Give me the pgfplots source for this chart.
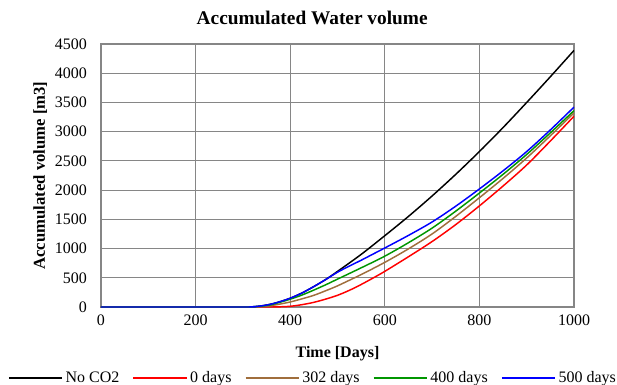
\documentclass[border=0pt]{standalone}
\usepackage{fontspec}
\setmainfont{Liberation Serif}
\usepackage{pgfplots}
\pgfplotsset{compat=1.18}
\definecolor{gridgray}{RGB}{134,134,134}
\definecolor{cbrown}{RGB}{160,110,60}
\definecolor{cgreen}{RGB}{0,150,0}
\begin{document}
\begin{tikzpicture}
\begin{axis}[
  name=ax,
  scale only axis,
  width=354.75pt, height=197.25pt,
  xmin=0, xmax=1000, ymin=0, ymax=4500,
  xtick={0,200,...,1000},
  ytick={0,500,...,4500},
  grid=major,
  major grid style={gridgray, line width=0.9pt},
  axis line style={gridgray, line width=0.9pt},
  major tick length=0pt,
  /pgf/number format/assume math mode=true,
  /pgf/number format/set thousands separator={},
  tick label style={font=\fontsize{12}{14}\selectfont},
  xticklabel style={yshift=-2pt},
  yticklabel style={xshift=-7pt},
  title={\textbf{Accumulated Water volume}},
  title style={font=\fontsize{14.5}{16}\selectfont, yshift=5pt, xshift=-19pt},
  xlabel={\textbf{Time [Days]}},
  ylabel={\textbf{Accumulated volume [m3]}},
  xlabel style={font=\fontsize{12}{14}\selectfont, yshift=-9pt},
  ylabel style={font=\fontsize{12.5}{14}\selectfont, yshift=-1pt},
  legend columns=5,
  legend style={draw=none, fill=none, at={(rel axis cs:0.449,-0.27)}, anchor=center,
    font=\fontsize{12}{14}\selectfont,
    /tikz/every even column/.append style={column sep=8pt}},
  legend image code/.code={\draw[#1] (0pt,0pt) -- (40pt,0pt);},
  every axis plot/.append style={line width=1.1pt, smooth, tension=0.5},
]
\addplot[black] coordinates {(0,0) (300,0) (320,4) (340,20) (360,50) (380,95) (400,150) (425,240) (450,350) (475,470) (500,609) (550,900) (600,1220) (650,1550) (700,1900) (750,2270) (800,2660) (850,3070) (900,3500) (950,3940) (1000,4390)};
\addlegendentry{No CO2}
\addplot[red] coordinates {(0,0) (300,0) (360,0) (380,4) (400,12) (425,40) (450,80) (475,135) (500,200) (525,285) (550,385) (575,495) (600,610) (650,860) (700,1120) (750,1410) (800,1730) (850,2070) (900,2430) (950,2840) (1000,3264)};
\addlegendentry{0 days}
\addplot[cbrown] coordinates {(0,0) (300,0) (330,3) (350,15) (375,45) (400,86) (425,140) (450,200) (475,278) (500,362) (550,555) (600,764) (650,995) (700,1250) (750,1550) (800,1870) (850,2200) (900,2550) (950,2930) (1000,3322)};
\addlegendentry{302 days}
\addplot[cgreen] coordinates {(0,0) (300,0) (320,3) (340,15) (360,40) (380,85) (400,133) (425,205) (450,290) (475,380) (500,477) (550,670) (600,870) (650,1100) (700,1350) (750,1640) (800,1950) (850,2270) (900,2610) (950,2980) (1000,3360)};
\addlegendentry{400 days}
\addplot[blue] coordinates {(0,0) (300,0) (320,4) (340,20) (360,50) (380,95) (400,150) (425,240) (450,350) (475,470) (500,595) (525,700) (550,800) (575,905) (600,1010) (650,1225) (700,1455) (750,1725) (800,2020) (850,2330) (900,2660) (950,3030) (1000,3420)};
\addlegendentry{500 days}
\end{axis}
\pgfresetboundingbox
\path (ax.south west) ++(-75.75pt,-58.5pt) rectangle ++(462.75pt,288.75pt);
\end{tikzpicture}
\end{document}
